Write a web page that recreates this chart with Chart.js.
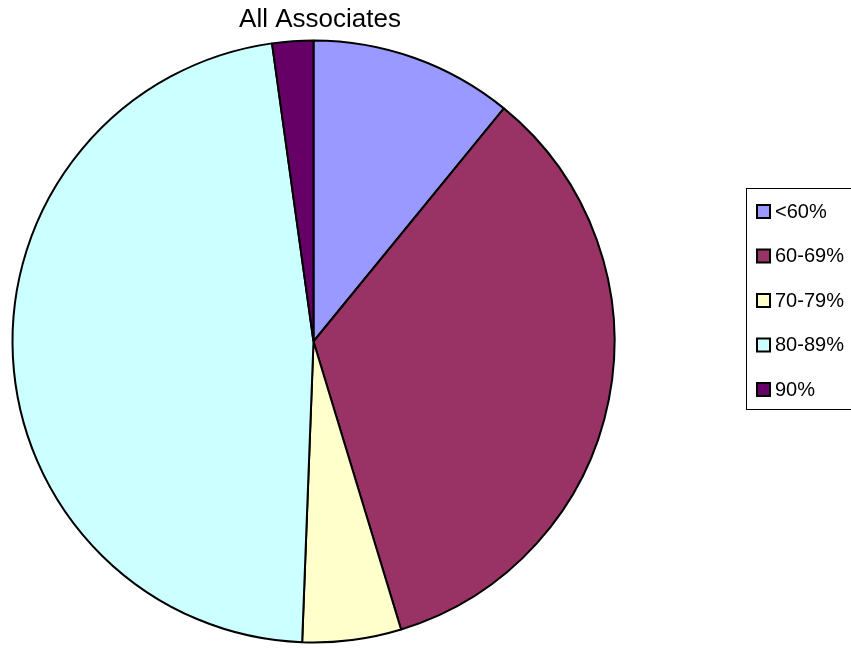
<!DOCTYPE html>
<html>
<head>
<meta charset="utf-8">
<title>All Associates</title>
<script src="https://cdn.jsdelivr.net/npm/chart.js@4.4.1/dist/chart.umd.min.js"></script>
<style>
  html, body { margin: 0; padding: 0; background: #fff; }
  #wrap { width: 851px; height: 648px; }
</style>
</head>
<body>
<div id="wrap"><canvas id="pie" width="851" height="648"></canvas></div>
<script>
const chartTitle = 'All Associates';
const categories = ['<60%', '60-69%', '70-79%', '80-89%', '90%'];
const shares = [10.9, 34.4, 5.3, 47.2, 2.2];
const sliceColors = ['#9999FF', '#993366', '#FFFFCC', '#CCFFFF', '#660066'];

// title + boxed legend drawn by hand, Excel style
const chrome = {
  id: 'chrome',
  afterDraw(chart) {
    const ctx = chart.ctx;
    ctx.save();
    ctx.fillStyle = '#000';
    ctx.font = '26px "Liberation Sans", Arial, sans-serif';
    ctx.textAlign = 'center';
    ctx.textBaseline = 'middle';
    ctx.fillText(chartTitle, 320, 20);

    ctx.strokeStyle = '#000';
    ctx.lineWidth = 1;
    ctx.strokeRect(746.5, 188.5, 120, 221);

    const labels = chart.data.labels;
    const colors = chart.data.datasets[0].backgroundColor;
    ctx.font = '20px "Liberation Sans", Arial, sans-serif';
    ctx.textAlign = 'left';
    labels.forEach((lab, i) => {
      const y = 211 + i * 44.5;
      ctx.fillStyle = colors[i];
      ctx.fillRect(757, y - 6, 13, 13);
      ctx.lineWidth = 2;
      ctx.strokeRect(757, y - 6, 13, 13);
      ctx.fillStyle = '#000';
      ctx.fillText(lab, 775, y + 1);
    });
    ctx.restore();
  }
};

new Chart(document.getElementById('pie'), {
  type: 'pie',
  data: {
    labels: categories,
    datasets: [{
      data: shares,
      backgroundColor: sliceColors,
      borderColor: '#000',
      borderWidth: 2,
      radius: 301
    }]
  },
  options: {
    responsive: false,
    animation: false,
    layout: { padding: { left: 12, right: 236, top: 40, bottom: 5 } },
    plugins: {
      legend: { display: false },
      title: { display: false },
      tooltip: { enabled: false }
    }
  },
  plugins: [chrome]
});
</script>
</body>
</html>
